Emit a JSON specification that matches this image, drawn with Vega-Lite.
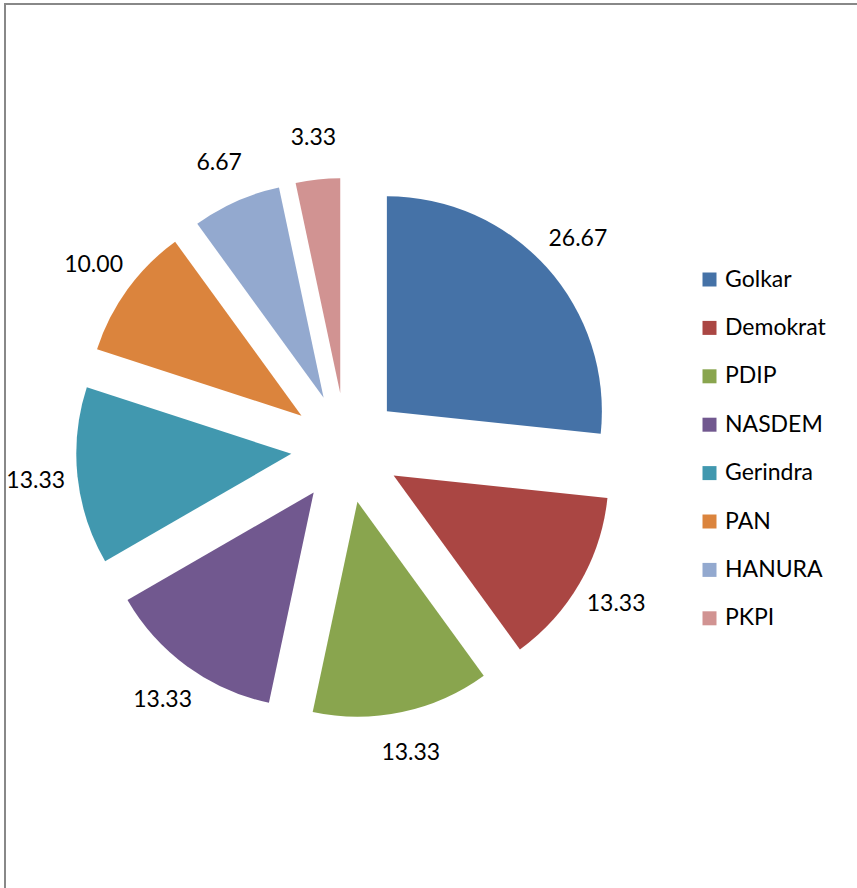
{
  "$schema": "https://vega.github.io/schema/vega-lite/v6.json",
  "width": 860,
  "height": 890,
  "autosize": {"type": "none"},
  "padding": {"left": 5, "top": 4, "right": 0, "bottom": 0},
  "background": "white",
  "view": {"stroke": "#888888", "strokeWidth": 2},
  "config": {"font": "Lato"},
  "data": {
    "values": [
      {"party": "Golkar", "value": 26.67},
      {"party": "Demokrat", "value": 13.33},
      {"party": "PDIP", "value": 13.33},
      {"party": "NASDEM", "value": 13.33},
      {"party": "Gerindra", "value": 13.33},
      {"party": "PAN", "value": 10.00},
      {"party": "HANURA", "value": 6.67},
      {"party": "PKPI", "value": 3.33}
    ]
  },
  "transform": [
    {"window": [{"op": "sum", "field": "value", "as": "cum"}], "frame": [null, 0]},
    {"joinaggregate": [{"op": "sum", "field": "value", "as": "total"}]},
    {"calculate": "(datum.cum - datum.value) / datum.total", "as": "f0"},
    {"calculate": "datum.cum / datum.total", "as": "f1"},
    {"calculate": "(datum.f0 + datum.f1) / 2", "as": "fm"},
    {"calculate": "sin(2 * PI * datum.fm)", "as": "ox"},
    {"calculate": "cos(2 * PI * datum.fm)", "as": "oy"}
  ],
  "encoding": {
    "x": {"field": "ox", "type": "quantitative", "scale": {"domain": [-1, 1], "range": [286, 396], "nice": false, "zero": false}, "axis": null},
    "y": {"field": "oy", "type": "quantitative", "scale": {"domain": [-1, 1], "range": [499, 389], "nice": false, "zero": false}, "axis": null},
    "color": {
      "field": "party",
      "type": "nominal",
      "scale": {
        "domain": ["Golkar", "Demokrat", "PDIP", "NASDEM", "Gerindra", "PAN", "HANURA", "PKPI"],
        "range": ["#4572A7", "#AA4643", "#89A54E", "#71588F", "#4198AF", "#DB843D", "#93A9CF", "#D19392"]
      },
      "legend": {
        "title": null,
        "orient": "none",
        "legendX": 693,
        "legendY": 264,
        "symbolType": "square",
        "symbolSize": 196,
        "symbolStrokeWidth": 0,
        "symbolOpacity": 1,
        "labelFontSize": 23,
        "labelFont": "Lato",
        "labelColor": "black",
        "labelOffset": 4,
        "rowPadding": 24.4,
        "padding": 0
      }
    }
  },
  "layer": [
    {
      "mark": {"type": "arc", "radius": 215},
      "encoding": {
        "theta": {"field": "f0", "type": "quantitative", "scale": {"domain": [0, 1], "range": [0, 6.283185307179586]}},
        "theta2": {"field": "f1"}
      }
    },
    {
      "mark": {"type": "text", "radius": 257, "fontSize": 23, "font": "Lato"},
      "encoding": {
        "theta": {"field": "fm", "type": "quantitative", "scale": {"domain": [0, 1], "range": [0, 6.283185307179586]}},
        "text": {"field": "value", "type": "quantitative", "format": ".2f"},
        "color": {"value": "black"}
      }
    }
  ]
}
